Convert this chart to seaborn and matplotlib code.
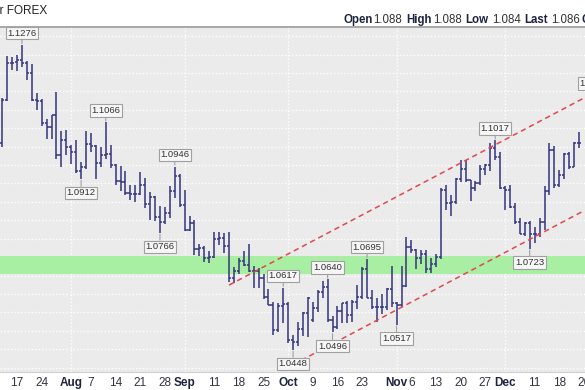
import numpy as np
import pandas as pd
import matplotlib
matplotlib.use("Agg")
import matplotlib.pyplot as plt
import seaborn as sns

# ---------------- data (EUR/USD daily OHLC) ----------------
start_date = "2023-07-12"
end_date = "2023-12-22"
holidays = ["2023-12-25"]

opens = [1.1010, 1.1128, 1.1228, 1.1229, 1.1235, 1.1226, 1.1199, 1.1128, 1.1124, 1.1064,
         1.1054, 1.1085, 1.0976, 1.1017, 1.0998, 1.0986, 1.0935, 1.0944, 1.1008, 1.1003,
         1.0956, 1.0977, 1.0981, 1.0950, 1.0906, 1.0904, 1.0875, 1.0871, 1.0872, 1.0895,
         1.0845, 1.0862, 1.0808, 1.0796, 1.0819, 1.0880, 1.0920, 1.0842, 1.0775, 1.0794,
         1.0722, 1.0726, 1.0697, 1.0700, 1.0750, 1.0752, 1.0731, 1.0643, 1.0661, 1.0690,
         1.0678, 1.0663, 1.0661, 1.0644, 1.0592, 1.0570, 1.0503, 1.0566, 1.0573, 1.0476,
         1.0470, 1.0505, 1.0548, 1.0530, 1.0563, 1.0605, 1.0620, 1.0528, 1.0510, 1.0555,
         1.0575, 1.0543, 1.0579, 1.0593, 1.0668, 1.0590, 1.0565, 1.0565, 1.0565, 1.0614,
         1.0576, 1.0569, 1.0621, 1.0728, 1.0720, 1.0697, 1.0708, 1.0667, 1.0682, 1.0700,
         1.0881, 1.0848, 1.0851, 1.0912, 1.0940, 1.0909, 1.0887, 1.0901, 1.0940, 1.0951,
         1.0996, 1.0971, 1.0889, 1.0883, 1.0837, 1.0796, 1.0764, 1.0794, 1.0762, 1.0764,
         1.0795, 1.0879, 1.0990, 1.0895, 1.0924, 1.0981, 1.0944, 1.1011]
highs = [1.1131, 1.1245, 1.1244, 1.1249, 1.1276, 1.1232, 1.1225, 1.1145, 1.1130, 1.1075,
         1.1087, 1.1149, 1.1042, 1.1045, 1.1005, 1.1017, 1.0957, 1.1042, 1.1036, 1.1004,
         1.0998, 1.1066, 1.1005, 1.0953, 1.0948, 1.0935, 1.0895, 1.0895, 1.0930, 1.0914,
         1.0876, 1.0865, 1.0839, 1.0835, 1.0892, 1.0946, 1.0925, 1.0882, 1.0812, 1.0800,
         1.0737, 1.0730, 1.0716, 1.0768, 1.0768, 1.0766, 1.0768, 1.0673, 1.0699, 1.0717,
         1.0736, 1.0676, 1.0671, 1.0654, 1.0613, 1.0577, 1.0575, 1.0617, 1.0577, 1.0488,
         1.0525, 1.0550, 1.0592, 1.0577, 1.0610, 1.0635, 1.0640, 1.0540, 1.0566, 1.0576,
         1.0580, 1.0583, 1.0623, 1.0673, 1.0695, 1.0610, 1.0589, 1.0601, 1.0615, 1.0675,
         1.0578, 1.0676, 1.0756, 1.0746, 1.0722, 1.0719, 1.0720, 1.0697, 1.0709, 1.0887,
         1.0895, 1.0869, 1.0915, 1.0965, 1.0965, 1.0910, 1.0907, 1.0950, 1.0954, 1.1010,
         1.1017, 1.0986, 1.0894, 1.0895, 1.0848, 1.0806, 1.0795, 1.0799, 1.0783, 1.0806,
         1.0894, 1.1009, 1.1002, 1.0937, 1.0984, 1.0986, 1.1012, 1.1040]
lows = [1.0998, 1.1124, 1.1209, 1.1205, 1.1216, 1.1180, 1.1124, 1.1100, 1.1056, 1.1022,
        1.1020, 1.0967, 1.0945, 1.0978, 1.0952, 1.0929, 1.0912, 1.0940, 1.0985, 1.0912,
        1.0946, 1.0967, 1.0943, 1.0896, 1.0880, 1.0870, 1.0856, 1.0850, 1.0870, 1.0834,
        1.0802, 1.0799, 1.0766, 1.0790, 1.0807, 1.0860, 1.0835, 1.0770, 1.0772, 1.0706,
        1.0702, 1.0686, 1.0685, 1.0697, 1.0733, 1.0712, 1.0632, 1.0631, 1.0654, 1.0675,
        1.0660, 1.0616, 1.0617, 1.0586, 1.0569, 1.0488, 1.0497, 1.0520, 1.0466, 1.0448,
        1.0460, 1.0486, 1.0482, 1.0525, 1.0552, 1.0588, 1.0525, 1.0496, 1.0505, 1.0521,
        1.0522, 1.0525, 1.0560, 1.0585, 1.0588, 1.0560, 1.0525, 1.0546, 1.0556, 1.0565,
        1.0517, 1.0565, 1.0619, 1.0711, 1.0667, 1.0682, 1.0656, 1.0657, 1.0673, 1.0695,
        1.0827, 1.0813, 1.0845, 1.0903, 1.0903, 1.0852, 1.0879, 1.0896, 1.0923, 1.0933,
        1.0964, 1.0884, 1.0828, 1.0834, 1.0791, 1.0763, 1.0757, 1.0723, 1.0738, 1.0754,
        1.0775, 1.0868, 1.0888, 1.0890, 1.0911, 1.0940, 1.0944, 1.0996]
closes = [1.1128, 1.1228, 1.1228, 1.1235, 1.1226, 1.1199, 1.1128, 1.1125, 1.1064, 1.1054,
          1.1085, 1.0976, 1.1017, 1.0998, 1.0986, 1.0935, 1.0944, 1.1008, 1.1003, 1.0956,
          1.0977, 1.0981, 1.0950, 1.0906, 1.0904, 1.0875, 1.0871, 1.0872, 1.0895, 1.0845,
          1.0862, 1.0808, 1.0796, 1.0819, 1.0880, 1.0920, 1.0842, 1.0775, 1.0794, 1.0722,
          1.0726, 1.0697, 1.0700, 1.0750, 1.0752, 1.0731, 1.0643, 1.0661, 1.0690, 1.0678,
          1.0663, 1.0661, 1.0644, 1.0592, 1.0570, 1.0503, 1.0566, 1.0573, 1.0476, 1.0470,
          1.0505, 1.0548, 1.0589, 1.0563, 1.0605, 1.0620, 1.0528, 1.0510, 1.0555, 1.0575,
          1.0543, 1.0579, 1.0593, 1.0668, 1.0590, 1.0565, 1.0565, 1.0565, 1.0614, 1.0576,
          1.0569, 1.0621, 1.0728, 1.0720, 1.0697, 1.0708, 1.0667, 1.0682, 1.0700, 1.0881,
          1.0848, 1.0851, 1.0912, 1.0940, 1.0909, 1.0887, 1.0901, 1.0940, 1.0951, 1.0996,
          1.0971, 1.0889, 1.0883, 1.0837, 1.0796, 1.0764, 1.0794, 1.0762, 1.0764, 1.0795,
          1.0879, 1.0990, 1.0895, 1.0924, 1.0981, 1.0944, 1.1011, 1.1011]

# callout labels (extremes)
label_dates = ["2023-07-18", "2023-08-10", "2023-08-03", "2023-08-30", "2023-08-25",
               "2023-09-29", "2023-10-12", "2023-10-24", "2023-10-03", "2023-10-13",
               "2023-11-01", "2023-11-29", "2023-12-08", "2023-12-28"]
label_values = [1.1276, 1.1066, 1.0912, 1.0946, 1.0766, 1.0617, 1.0640, 1.0695,
                1.0448, 1.0496, 1.0517, 1.1017, 1.0723, 1.1139]
label_sides = ["high", "high", "low", "high", "low", "high", "high", "high",
               "low", "low", "low", "high", "low", "high"]

# trend channel (two parallel dashed lines)
upper_dates = ["2023-09-14", "2023-12-26"]
upper_values = [1.0624, 1.1132]
lower_dates = ["2023-10-03", "2023-12-26"]
lower_values = [1.0408, 1.0826]

# support zone
zone_low, zone_high = 1.0655, 1.0703

# x-axis ticks
tick_dates = ["2023-07-17", "2023-07-24", "2023-08-01", "2023-08-07", "2023-08-14",
              "2023-08-21", "2023-08-28", "2023-09-01", "2023-09-11", "2023-09-18",
              "2023-09-25", "2023-10-02", "2023-10-09", "2023-10-16", "2023-10-23",
              "2023-11-01", "2023-11-06", "2023-11-13", "2023-11-20", "2023-11-27",
              "2023-12-01", "2023-12-11", "2023-12-18", "2023-12-26"]
tick_labels = ["17", "24", "Aug", "7", "14", "21", "28", "Sep", "11", "18", "25", "Oct",
               "9", "16", "23", "Nov", "6", "13", "20", "27", "Dec", "11", "18", "26"]
month_starts = ["2023-08-01", "2023-09-01", "2023-10-02", "2023-11-01", "2023-12-01"]

title_text = "Euro/US Dollar FOREX"
header_items = [("Open", "bold", 343), ("1.088", "normal", 373),
                ("High", "bold", 406), ("1.088", "normal", 433),
                ("Low", "bold", 465), ("1.084", "normal", 492),
                ("Last", "bold", 524), ("1.086", "normal", 551),
                ("Change", "bold", 581)]


def pos(d):
    return float(np.busday_count(start_date, d, holidays=holidays))


# ---------------- figure ----------------
sns.set_style("white")
plt.rcParams["font.family"] = ["Liberation Sans", "DejaVu Sans"]

W, H = 585, 390
fig = plt.figure(figsize=(W / 100, H / 100), dpi=100, facecolor="white")
top_px, bot_px = 27, 372
ax = fig.add_axes([0, 1 - bot_px / H, 1, (bot_px - top_px) / H])
ax.set_facecolor("#ebebeb")

n = len(opens)
x = np.array([pos(d) for d in pd.bdate_range(start_date, end_date, freq="C",
                                              holidays=holidays).strftime("%Y-%m-%d")])[:n]

# scale: 4.93 px per trading day, Jul 17 at px 17
px_per_day = 4.93
x0 = pos("2023-07-17") - 17 / px_per_day
ax.set_xlim(x0, x0 + W / px_per_day)
ax.set_ylim(1.03881, 1.13249)

# grid
for yv in np.arange(1.040, 1.1331, 0.005):
    ax.axhline(yv, color="white", lw=1.0, ls=(0, (1, 1.5)), zorder=0.5)
for d in month_starts:
    ax.axvline(pos(d), color="white", lw=1.0, ls=(0, (1, 1.5)), zorder=0.5)

# support zone
ax.axhspan(zone_low, zone_high, color="#a8efa4", lw=0, zorder=1)

# OHLC bars
bar_color = "#34347e"
tick_w = 0.42
ax.vlines(x, lows, highs, color=bar_color, lw=1.1, zorder=3)
ax.hlines(opens, x - tick_w, x, color=bar_color, lw=1.1, zorder=3)
ax.hlines(closes, x, x + tick_w, color=bar_color, lw=1.1, zorder=3)

# trend channel via seaborn
chan = pd.DataFrame({
    "x": [pos(d) for d in upper_dates] + [pos(d) for d in lower_dates],
    "y": upper_values + lower_values,
    "line": ["upper", "upper", "lower", "lower"],
})
sns.lineplot(data=chan, x="x", y="y", units="line", estimator=None, ax=ax,
             color="#e0484f", lw=1.1, dashes=False, zorder=4)
for l in ax.lines[-2:]:
    l.set_linestyle((0, (3.5, 2.5)))

# callouts
for d, v, s in zip(label_dates, label_values, label_sides):
    off = 8.5 if s == "high" else -10
    ax.annotate(f"{v:.4f}", xy=(pos(d), v), xytext=(0, off), textcoords="offset points",
                ha="center", va="center", fontsize=6.8, color="#333333",
                bbox=dict(boxstyle="square,pad=0.18", fc="#f6f6f6", ec="#a0a0a0", lw=0.8),
                arrowprops=dict(arrowstyle="-", color="#a0a0a0", lw=0.8,
                                shrinkA=0, shrinkB=1),
                zorder=6, annotation_clip=False)

# axes styling
ax.set_yticks([])
ax.set_xticks([pos(d) for d in tick_dates])
ax.set_xticklabels(tick_labels)
ax.tick_params(axis="x", length=0, pad=3.5, labelsize=8.5, labelcolor="#333344")
for lab in ax.get_xticklabels():
    if lab.get_text() in ("Aug", "Sep", "Oct", "Nov", "Dec"):
        lab.set_fontweight("bold")
        lab.set_color("#1f2440")
for side in ("left", "right"):
    ax.spines[side].set_visible(False)
ax.spines["top"].set_color("#a8a8a8")
ax.spines["top"].set_linewidth(1.4)
ax.spines["bottom"].set_color("#d0d0d0")
ax.spines["bottom"].set_linewidth(0.8)
ax.set_xlabel("")
ax.set_ylabel("")

# header texts
fig.text(47 / W, 1 - 11 / H, title_text, ha="right", va="center", fontsize=8.5,
         color="#222222")
for txt, wt, px in header_items:
    fig.text(px / W, 1 - 20 / H, txt, ha="left", va="center", fontsize=8.3,
             fontweight=wt, color="#1f2440" if wt == "bold" else "#333333")

fig.savefig("out.png", dpi=100, facecolor="white")
